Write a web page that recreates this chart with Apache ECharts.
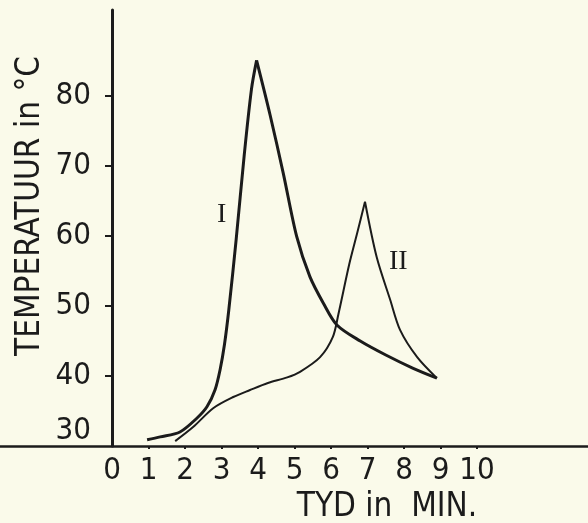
<!DOCTYPE html>
<html>
<head>
<meta charset="utf-8">
<script src="https://cdn.jsdelivr.net/npm/echarts@6/dist/echarts.min.js"></script>
<style>
  html, body { margin: 0; padding: 0; background: #fafaea; }
  #chart { width: 588px; height: 523px; }
</style>
</head>
<body>
<div id="chart"></div>
<script>
// tyd (min) / temperatuur (C), each curve split at its peak so the peak stays sharp
var curveIRise = [
    [0.96, 30.9], [1.32, 31.3], [1.86, 32], [2.33, 34], [2.6, 35.6], [2.82, 38],
    [2.96, 40.9], [3.08, 44.5], [3.2, 49.5], [3.4, 59.5], [3.62, 71.5], [3.82, 81], [3.96, 85.1]
];
var curveIFall = [
    [3.96, 85.1], [4.33, 77.3], [4.69, 69], [5.06, 59.9], [5.42, 54.2], [5.79, 50.4],
    [6.16, 47.3], [6.8, 45], [7.5, 43], [8.25, 41.1], [8.9, 39.7]
];
var curveIIRise = [
    [1.73, 30.7], [2.22, 32.7], [2.77, 35.4], [3.32, 37], [3.78, 38], [4.27, 39],
    [4.8, 39.8], [5.15, 40.6], [5.7, 42.7], [6.05, 45.6], [6.2, 48.8], [6.5, 56],
    [6.72, 60.5], [6.93, 64.9]
];
var curveIIFall = [
    [6.93, 64.9], [7.25, 57], [7.62, 50.9], [7.89, 46.6], [8.36, 42.7], [8.9, 39.7]
];
var xTicks = [0, 1, 2, 3, 4, 5, 6, 7, 8, 9, 10];
var yTicks = [30, 40, 50, 60, 70, 80];

var ink = '#1b1b1b';
var font = 'DejaVu Sans Condensed';

function curve(data, width) {
    return {
        type: 'line',
        data: data,
        smooth: 0.3,
        showSymbol: false,
        lineStyle: { color: ink, width: width }
    };
}

function tag(text, at) {
    return {
        symbolSize: 0,
        data: [{ coord: at }],
        label: {
            show: true, position: 'inside', formatter: text,
            color: ink, fontFamily: 'Liberation Serif', fontSize: 28
        }
    };
}

var myChart = echarts.init(document.getElementById('chart'));

var sI = curve(curveIRise, 3);
sI.markPoint = tag('I', [3.0, 63]);
var sII = curve(curveIIFall, 2);
sII.markPoint = tag('II', [7.84, 56.3]);

var option = {
    backgroundColor: '#fafaea',
    animation: false,
    grid: { left: 0, right: 0, top: 10, bottom: 77, outerBoundsMode: 'none' },
    xAxis: {
        type: 'value',
        min: -3.07,
        max: 13.04,
        splitLine: { show: false },
        axisLine: { lineStyle: { color: ink, width: 2.5 } },
        axisTick: { customValues: xTicks.slice(1), length: 3, lineStyle: { color: ink, width: 2 } },
        axisLabel: {
            customValues: xTicks,
            margin: 9,
            color: ink,
            fontFamily: font,
            fontSize: 31
        }
    },
    yAxis: {
        type: 'value',
        min: 30,
        max: 92.3,
        offset: -112,
        splitLine: { show: false },
        axisLine: { onZero: false, lineStyle: { color: ink, width: 3 } },
        axisTick: { customValues: yTicks.slice(1), length: 7, lineStyle: { color: ink, width: 2 } },
        axisLabel: {
            customValues: yTicks,
            margin: 21,
            color: ink,
            fontFamily: font,
            fontSize: 31,
            verticalAlignMinLabel: 'bottom'
        }
    },
    graphic: [
        {
            type: 'text',
            x: 30, y: 206,
            rotation: Math.PI / 2,
            style: {
                text: 'TEMPERATUUR in °C',
                fill: ink,
                font: '33px "DejaVu Sans Condensed"',
                align: 'center',
                verticalAlign: 'middle'
            }
        },
        {
            type: 'text',
            x: 387, y: 507,
            style: {
                text: 'TYD in  MIN.',
                fill: ink,
                font: '33px "DejaVu Sans Condensed"',
                align: 'center',
                verticalAlign: 'middle'
            }
        }
    ],
    series: [
        sI,
        curve(curveIFall, 3),
        curve(curveIIRise, 2),
        sII
    ]
};

myChart.setOption(option);
</script>
</body>
</html>
